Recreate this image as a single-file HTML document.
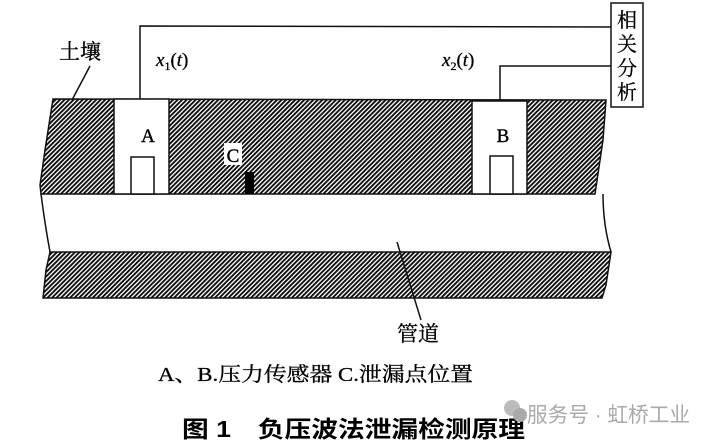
<!DOCTYPE html>
<html><head><meta charset="utf-8"><style>
html,body{margin:0;padding:0;background:#fff;}
svg{display:block;}
.s{font-family:"Liberation Serif","Noto Serif CJK SC",serif;}
.k{font-family:"Liberation Sans","Noto Sans CJK SC",sans-serif;}
</style></head><body>
<svg width="715" height="445" viewBox="0 0 715 445" xmlns="http://www.w3.org/2000/svg">
<defs>
<pattern id="h" width="3.2" height="3.2" patternUnits="userSpaceOnUse" patternTransform="rotate(45)">
<rect width="3.2" height="3.2" fill="#fff"/>
<rect x="0" y="0" width="1.9" height="3.2" fill="#111"/>
</pattern>
</defs>
<path d="M53,99 L606,100 L603,140 L595,194 L41,194 L40,185 L45,150 Z" fill="url(#h)" stroke="#111" stroke-width="1.5"/>
<path d="M50,252 L611,252 L606,285 L602,298 L43,298 L46,270 Z" fill="url(#h)" stroke="#111" stroke-width="1.5"/>
<path d="M41,194 Q45,225 50,252" fill="none" stroke="#111" stroke-width="1.5"/>
<path d="M603,194 Q603,225 611,252" fill="none" stroke="#111" stroke-width="1.5"/>
<rect x="114" y="99" width="55" height="95" fill="#fff" stroke="#111" stroke-width="1.5"/>
<rect x="131" y="157" width="23" height="37" fill="#fff" stroke="#111" stroke-width="1.5"/>
<text x="148" y="142" class="s" font-size="19" text-anchor="middle" stroke="#000" stroke-width="0.4">A</text>
<rect x="472" y="101" width="55" height="93" fill="#fff" stroke="#111" stroke-width="1.5"/>
<rect x="490" y="156" width="23" height="38" fill="#fff" stroke="#111" stroke-width="1.5"/>
<text x="503" y="142" class="s" font-size="19" text-anchor="middle" stroke="#000" stroke-width="0.4">B</text>
<rect x="224" y="143" width="18" height="22" fill="#fff"/>
<text x="233" y="162" class="s" font-size="19" text-anchor="middle" stroke="#000" stroke-width="0.4">C</text>
<rect x="245" y="172" width="9" height="22" fill="#000"/>
<polyline points="140,99 140,26 611,27" fill="none" stroke="#111" stroke-width="1.5"/>
<polyline points="500,100 500,66 611,66" fill="none" stroke="#111" stroke-width="1.5"/>
<rect x="611" y="3" width="32" height="104" fill="#fff" stroke="#111" stroke-width="1.5"/>
<text class="s" font-size="20" text-anchor="middle" x="627" stroke="#000" stroke-width="0.3"><tspan x="627" y="27">相</tspan><tspan x="627" y="51">关</tspan><tspan x="627" y="75">分</tspan><tspan x="627" y="99">析</tspan></text>
<text x="156" y="66" class="s" font-size="19" font-style="italic" stroke="#000" stroke-width="0.3">x<tspan font-size="12" font-style="normal" dy="4">1</tspan><tspan dy="-4" font-style="normal">(</tspan>t<tspan font-style="normal">)</tspan></text>
<text x="442" y="66" class="s" font-size="19" font-style="italic" stroke="#000" stroke-width="0.3">x<tspan font-size="12" font-style="normal" dy="4">2</tspan><tspan dy="-4" font-style="normal">(</tspan>t<tspan font-style="normal">)</tspan></text>
<text x="59" y="59" class="s" font-size="21" stroke="#000" stroke-width="0.3">土壤</text>
<line x1="90" y1="66" x2="72" y2="100" stroke="#111" stroke-width="1.5"/>
<line x1="397" y1="242" x2="421" y2="320" stroke="#111" stroke-width="1.5"/>
<text x="397" y="341" class="s" font-size="21" stroke="#000" stroke-width="0.3">管道</text>
<text x="158" y="381" class="s" font-size="20" textLength="315" lengthAdjust="spacingAndGlyphs" stroke="#000" stroke-width="0.3">A、B.压力传感器 C.泄漏点位置</text>
<text x="182" y="437" class="k" font-size="23" font-weight="bold" textLength="343" lengthAdjust="spacingAndGlyphs">图 1　负压波法泄漏检测原理</text>
<circle cx="512" cy="408" r="8" fill="#bbb"/>
<circle cx="520" cy="415" r="7" fill="#aaa"/>
<text x="527" y="422" class="k" font-size="21" fill="#aaa" textLength="163" lengthAdjust="spacingAndGlyphs">服务号 · 虹桥工业</text>
</svg>
</body></html>
